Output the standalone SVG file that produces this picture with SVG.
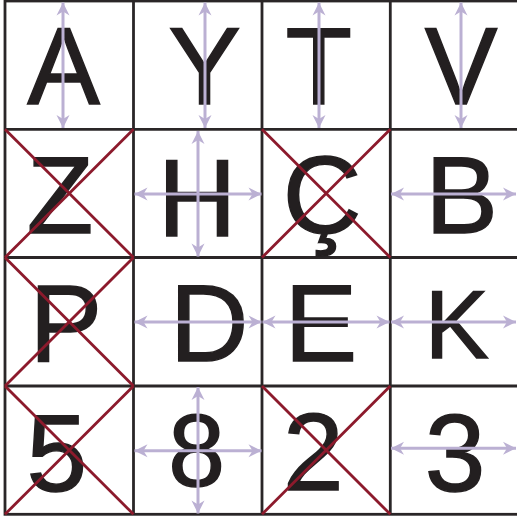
<svg xmlns="http://www.w3.org/2000/svg" width="517" height="520" viewBox="0 0 517 520">
<style>
.bg{fill:#ffffff}
.grid{stroke:#2a2627;stroke-width:2.8;fill:none}
.cross{stroke:#8c1a2c;stroke-width:2.8}
.arr{stroke:#bbb0d3;stroke-width:3;fill:none;marker-start:url(#ah);marker-end:url(#ah)}
.g{font-family:"Liberation Sans",Arial,sans-serif;font-size:109px;fill:#231f20;stroke:#231f20;stroke-width:1.4;text-anchor:middle}
</style>
<defs>
<marker id="ah" markerUnits="userSpaceOnUse" viewBox="-14 -7 15 14" refX="0" refY="0" markerWidth="15" markerHeight="14" orient="auto-start-reverse">
<path d="M0,0 L-13,-6.5 L-9,0 L-13,6.5 Z" fill="#bbb0d3"/>
</marker>
</defs>
<rect class="bg" x="0" y="0" width="517" height="520"/>
<g id="grid">
<rect class="grid" x="5" y="1" width="513.5" height="513.3"/>
<line class="grid" x1="133.5" y1="1" x2="133.5" y2="514.3"/>
<line class="grid" x1="262" y1="1" x2="262" y2="514.3"/>
<line class="grid" x1="390.3" y1="1" x2="390.3" y2="514.3"/>
<line class="grid" x1="5" y1="129.3" x2="518.5" y2="129.3"/>
<line class="grid" x1="5" y1="257.5" x2="518.5" y2="257.5"/>
<line class="grid" x1="5" y1="386" x2="518.5" y2="386"/>
</g>
<g id="n-A"><text class="g" x="63.5" y="104">A</text></g>
<g id="n-Y"><text class="g" x="204.7" y="104">Y</text></g>
<g id="n-T"><text class="g" x="318.8" y="104">T</text></g>
<g id="n-V"><text class="g" x="461" y="104">V</text></g>
<g id="n-Z"><text class="g" x="60" y="233">Z</text></g>
<g id="n-H"><text class="g" x="197" y="235.5">H</text></g>
<g id="n-C"><text class="g" x="322" y="233">Ç</text></g>
<g id="n-B"><text class="g" x="461.7" y="233">B</text></g>
<g id="n-P"><text class="g" x="65.8" y="360.8">P</text></g>
<g id="n-D"><text class="g" x="209" y="360.8">D</text></g>
<g id="n-E"><text class="g" x="320.8" y="360.8">E</text></g>
<g id="n-K"><text class="g" x="456.7" y="358.2" style="font-size:96px">K</text></g>
<g id="n-5"><text class="g" x="56.7" y="491">5</text></g>
<g id="n-8"><text class="g" x="196.7" y="485.5" style="font-size:102px">8</text></g>
<g id="n-2"><text class="g" x="313.3" y="489.5">2</text></g>
<g id="n-3"><text class="g" x="455" y="491">3</text></g>
<g id="crosses">
<line class="cross" x1="5" y1="129.3" x2="133.5" y2="257.5"/><line class="cross" x1="133.5" y1="129.3" x2="5" y2="257.5"/>
<line class="cross" x1="262" y1="129.3" x2="390.3" y2="257.5"/><line class="cross" x1="390.3" y1="129.3" x2="262" y2="257.5"/>
<line class="cross" x1="5" y1="257.5" x2="133.5" y2="386"/><line class="cross" x1="133.5" y1="257.5" x2="5" y2="386"/>
<line class="cross" x1="5" y1="386" x2="133.5" y2="514.3"/><line class="cross" x1="133.5" y1="386" x2="5" y2="514.3"/>
<line class="cross" x1="262" y1="386" x2="390.3" y2="514.3"/><line class="cross" x1="390.3" y1="386" x2="262" y2="514.3"/>
</g>
<g id="connectors">
<line class="arr" x1="63" y1="2.5" x2="63" y2="128"/>
<line class="arr" x1="205" y1="2.5" x2="205" y2="128"/>
<line class="arr" x1="319" y1="2.5" x2="319" y2="128"/>
<line class="arr" x1="461" y1="2.5" x2="461" y2="128"/>
<line class="arr" x1="198" y1="131" x2="198" y2="256.5"/>
<line class="arr" x1="134.5" y1="194" x2="261.5" y2="194"/>
<line class="arr" x1="391" y1="194" x2="516" y2="194"/>
<line class="arr" x1="134.5" y1="322" x2="261.5" y2="322"/>
<line class="arr" x1="262.5" y1="322" x2="389.5" y2="322"/>
<line class="arr" x1="391" y1="322" x2="516" y2="322"/>
<line class="arr" x1="198" y1="387" x2="198" y2="513.5"/>
<line class="arr" x1="134.5" y1="450.7" x2="261.5" y2="450.7"/>
<line class="arr" x1="391" y1="448.3" x2="516" y2="448.3"/>
</g>
</svg>
